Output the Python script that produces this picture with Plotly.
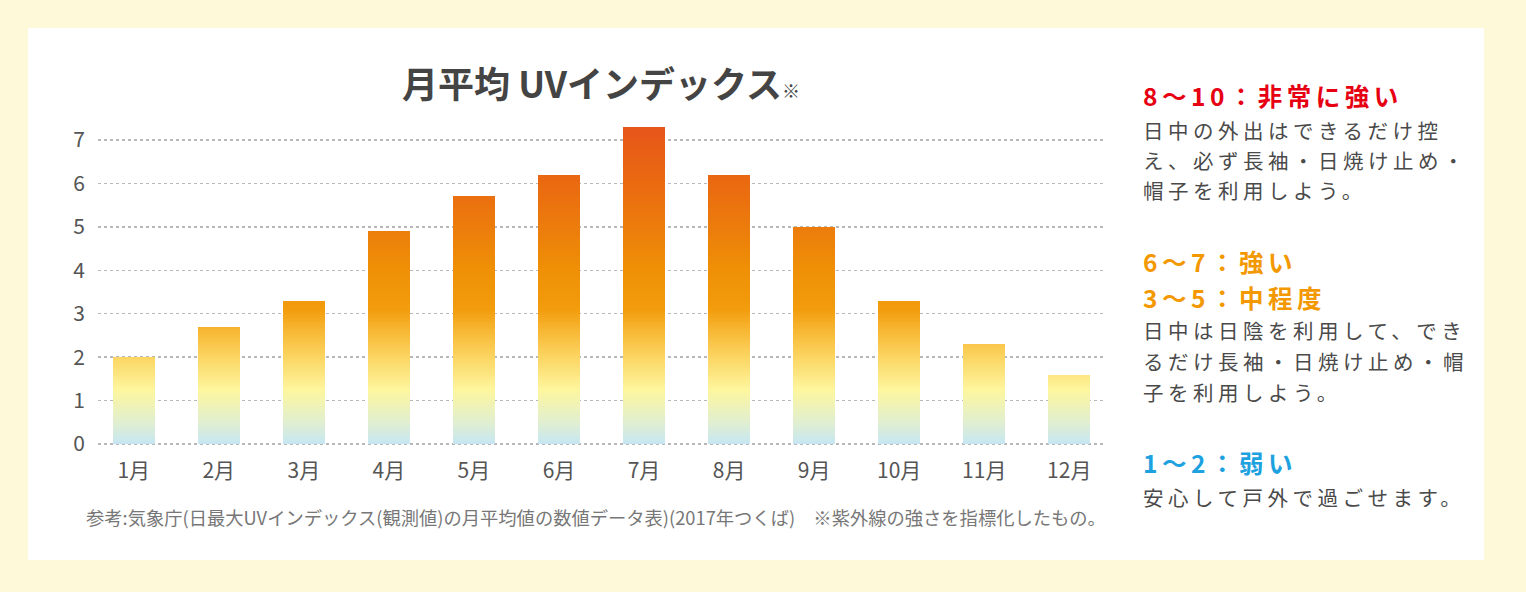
import plotly.graph_objects as go
from plotly.colors import sample_colorscale

# ---- data ----
months = ["1月", "2月", "3月", "4月", "5月", "6月", "7月", "8月", "9月", "10月", "11月", "12月"]
uv_index = [2.0, 2.7, 3.3, 4.9, 5.7, 6.2, 7.3, 6.2, 5.0, 3.3, 2.3, 1.6]
y_ticks = [0, 1, 2, 3, 4, 5, 6, 7]

title_text = "月平均 UVインデックス<span style='font-size:18px'>※</span>"
footnote = "参考:気象庁(日最大UVインデックス(観測値)の月平均値の数値データ表)(2017年つくば)　※紫外線の強さを指標化したもの。"

legend_heads = ["8～10：非常に強い", "6～7：強い", "3～5：中程度", "1～2：弱い"]
legend_bodies = [
    ["日中の外出はできるだけ控", "え、必ず長袖・日焼け止め・", "帽子を利用しよう。"],
    ["日中は日陰を利用して、でき", "るだけ長袖・日焼け止め・帽", "子を利用しよう。"],
    ["安心して戸外で過ごせます。"],
]

# ---- styling ----
W, H = 1526, 592
FONT = "Noto Sans CJK JP"
VMAX = 7.3
scale = [
    [0.0 / VMAX, "rgb(198,230,243)"],
    [0.5 / VMAX, "rgb(225,239,208)"],
    [1.25 / VMAX, "rgb(253,246,158)"],
    [2.0 / VMAX, "rgb(252,213,98)"],
    [2.6 / VMAX, "rgb(247,184,52)"],
    [3.1 / VMAX, "rgb(242,156,12)"],
    [4.0 / VMAX, "rgb(239,144,6)"],
    [5.0 / VMAX, "rgb(236,124,12)"],
    [6.0 / VMAX, "rgb(234,106,16)"],
    [7.3 / VMAX, "rgb(230,86,26)"],
]

def px_x(p):
    return p / W

def px_y(p):
    return 1 - p / H

# gradient bars: stack thin slices of each bar, coloured by absolute value
dy = 0.04
xs, bases, heights, fracs = [], [], [], []
for m, v in zip(months, uv_index):
    k = 0
    while k * dy < v - 1e-9:
        b = k * dy
        h = min(dy + 0.01, v - b)
        xs.append(m)
        bases.append(b)
        heights.append(h)
        fracs.append(min(1.0, (b + dy / 2) / VMAX))
        k += 1
colors = sample_colorscale(scale, fracs)

fig = go.Figure()
fig.add_trace(go.Bar(
    x=xs, y=heights, base=bases, width=0.49,
    marker=dict(color=colors, line=dict(width=0)),
    hoverinfo="skip", showlegend=False,
))

fig.update_layout(
    width=W, height=H,
    autosize=False,
    margin=dict(l=0, r=0, t=0, b=0, pad=0, autoexpand=False),
    paper_bgcolor="#fef9d8",
    plot_bgcolor="rgba(0,0,0,0)",
    barmode="overlay",
    bargap=0,
    font=dict(family=FONT, color="#555555"),
    showlegend=False,
    xaxis=dict(
        domain=[px_x(98), px_x(1105)],
        range=[-0.42, 11.42],
        type="category",
        categoryorder="array", categoryarray=months,
        showgrid=False, zeroline=False, showline=False, ticks="",
        tickfont=dict(size=21, color="#555555", family=FONT),
        ticklabelstandoff=10,
        automargin=False, fixedrange=True,
    ),
    yaxis=dict(
        domain=[px_y(446.2), px_y(122.6)],
        range=[-0.05, 7.4],
        tickvals=y_ticks,
        showgrid=True, gridcolor="#b8b8b8", gridwidth=1.5, griddash="dot",
        zeroline=False, showline=False, ticks="",
        tickfont=dict(size=21, color="#555555", family=FONT),
        ticklabelstandoff=12,
        automargin=False, fixedrange=True,
    ),
    shapes=[dict(
        type="rect", xref="paper", yref="paper",
        x0=px_x(28), x1=px_x(1484), y0=px_y(560), y1=px_y(28),
        fillcolor="#ffffff", line=dict(width=0), layer="below",
    )],
)

# title
fig.add_annotation(
    x=px_x(601), y=px_y(82), xref="paper", yref="paper",
    text=title_text, showarrow=False, xanchor="center", yanchor="middle",
    font=dict(size=36, color="#444444", family=FONT, weight="bold"),
)

# footnote
fig.add_annotation(
    x=px_x(84), y=px_y(517), xref="paper", yref="paper",
    text=footnote, showarrow=False, xanchor="left", yanchor="middle",
    font=dict(size=18.3, color="#777777", family=FONT),
)

# right-hand legend: headings
head_colors = ["#e60012", "#f39800", "#f39800", "#1ea1df"]
head_y = [95, 261, 297, 462]
for hd, hc, hy in zip(legend_heads, head_colors, head_y):
    fig.add_annotation(
        x=px_x(1142), y=px_y(hy), xref="paper", yref="paper",
        text="<span style='letter-spacing:4.5px'>" + hd + "</span>",
        showarrow=False, xanchor="left", yanchor="middle", align="left",
        font=dict(size=24.5, color=hc, family=FONT, weight="bold"),
        borderpad=0,
    )

# right-hand legend: body lines
body_y0 = [130, 330, 497]
line_step = [30, 31, 30]
for lines, y0, st in zip(legend_bodies, body_y0, line_step):
    for i, ln in enumerate(lines):
        fig.add_annotation(
            x=px_x(1142), y=px_y(y0 + i * st), xref="paper", yref="paper",
            text="<span style='letter-spacing:4.5px'>" + ln + "</span>",
            showarrow=False, xanchor="left", yanchor="middle", align="left",
            font=dict(size=20.5, color="#4a4a4a", family=FONT),
            borderpad=0,
        )

fig.write_html(
    "out.html",
    config={"displayModeBar": False, "staticPlot": True},
    post_script="document.body.style.margin='0';document.body.style.background='#fef9d8';",
)
